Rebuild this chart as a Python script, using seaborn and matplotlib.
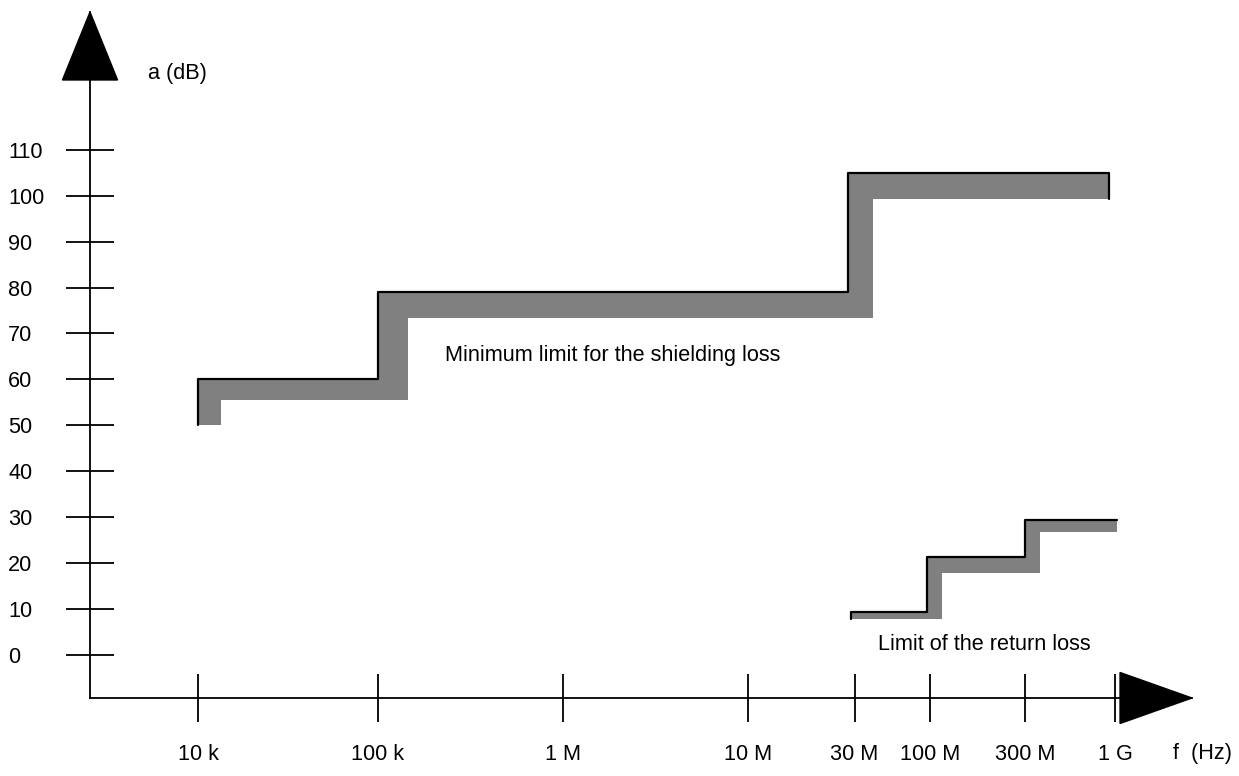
import numpy as np
import matplotlib
matplotlib.use('Agg')
import matplotlib.pyplot as plt
from matplotlib.patches import Polygon
import seaborn as sns

# frequency axis (Hz), tick labels and dB ticks
freq_ticks = [1e4, 1e5, 1e6, 1e7, 3e7, 1e8, 3e8, 1e9]
freq_labels = ['10 k', '100 k', '1 M', '10 M', '30 M', '100 M', '300 M', '1 G']
db_ticks = list(range(0, 111, 10))

# minimum limit for the shielding loss: top edge (black line) and lower edge of the grey band
shield_top_edges = [1e4, 1e5, 2.8e7, 0.92e9]
shield_top_db = [60, 79, 105]
shield_low_edges = [1e4, 1.35e4, 1.45e5, 4.0e7, 0.92e9]
shield_low_db = [50, 55.5, 73.3, 99.3]

# limit of the return loss
return_top_edges = [2.9e7, 9.5e7, 3.0e8, 1.02e9]
return_top_db = [9.4, 21.4, 29.3]
return_low_edges = [2.9e7, 1.15e8, 3.66e8, 1.02e9]
return_low_db = [7.7, 17.9, 26.7]

# the frequency axis is schematic: ticks are not spaced by a true log scale
tick_pos = [0, 0.98, 1.99, 3.0, 3.58, 3.99, 4.51, 5.0]
ref_log = np.r_[0, np.log10(freq_ticks), 13]
ref_pos = np.r_[-4, tick_pos, 9]


def fwd(f):
    f = np.clip(np.asarray(f, dtype=float), 1e-300, None)
    return np.interp(np.log10(f), ref_log, ref_pos)


def inv(p):
    return 10 ** np.interp(np.asarray(p, dtype=float), ref_pos, ref_log)


def level_at(edges, levels, grid):
    idx = np.searchsorted(edges, grid, side='right') - 1
    idx = np.clip(idx, 0, len(levels) - 1)
    return np.asarray(levels)[idx]


def step_line(edges, levels):
    xs, ys = [], []
    for i, lv in enumerate(levels):
        xs += [edges[i], edges[i + 1]]
        ys += [lv, lv]
    return xs, ys


def draw_limit(ax, top_edges, top_db, low_edges, low_db, drop_end):
    grid = np.array(sorted(set(top_edges) | set(low_edges)))
    top = level_at(top_edges, top_db, grid)
    low = level_at(low_edges, low_db, grid)
    ax.fill_between(grid, low, top, step='post', color='#808080', linewidth=0, zorder=2)
    xs, ys = step_line(top_edges, top_db)
    xs = [top_edges[0]] + xs
    ys = [low_db[0]] + ys
    if drop_end:
        xs.append(top_edges[-1])
        ys.append(low_db[-1])
    sns.lineplot(x=xs, y=ys, sort=False, estimator=None, color='black',
                 linewidth=1.6, ax=ax, zorder=3)


sns.set_theme(style='ticks', rc={'axes.edgecolor': 'black', 'xtick.color': 'black',
                                 'ytick.color': 'black', 'text.color': 'black'})
plt.rcParams['font.family'] = ['Liberation Sans', 'DejaVu Sans']
FS = 15.6

W, H = 1239, 776
fig = plt.figure(figsize=(W / 100, H / 100), dpi=100)
ax = fig.add_axes([90 / W, 1 - 698 / H, (1192 - 90) / W, (698 - 12) / H])
ax.set_xscale('function', functions=(fwd, inv))
ax.set_xlim(inv(-0.589), inv(5.42))
ax.set_ylim(-9.4, 140)

draw_limit(ax, shield_top_edges, shield_top_db, shield_low_edges, shield_low_db, True)
draw_limit(ax, return_top_edges, return_top_db, return_low_edges, return_low_db, False)

ax.text(2.3e5, 65.2, 'Minimum limit for the shielding loss', fontsize=FS,
        ha='left', va='center')
ax.text(4.4e7, 2.2, 'Limit of the return loss', fontsize=FS, ha='left', va='center')

sns.despine(ax=ax)
for s in ['left', 'bottom']:
    ax.spines[s].set_linewidth(1.3)

ax.set_xticks(freq_ticks)
ax.set_xticklabels(freq_labels)
ax.xaxis.set_minor_locator(matplotlib.ticker.NullLocator())
ax.set_yticks(db_ticks)
ax.set_yticklabels([str(v) for v in db_ticks])
ax.tick_params(axis='x', direction='inout', length=34, width=1.3, pad=16, labelsize=FS)
ax.tick_params(axis='y', direction='inout', length=34.5, width=1.3, pad=41.7, labelsize=FS)
plt.setp(ax.get_yticklabels(), ha='left')

# arrow heads on both axes
ax.add_patch(Polygon([[0, 1], [-0.0250, 0.9009], [0.0250, 0.9009]], closed=True,
                     transform=ax.transAxes, clip_on=False, color='black', zorder=5))
ax.add_patch(Polygon([[1, 0], [0.9347, -0.0372], [0.9347, 0.0372]], closed=True,
                     transform=ax.transAxes, clip_on=False, color='black', zorder=5))

fig.text(148 / W, 1 - 73 / H, 'a (dB)', fontsize=FS, ha='left', va='center')
fig.text(1173 / W, 1 - 753 / H, 'f  (Hz)', fontsize=FS, ha='left', va='center')

fig.savefig('out.png', dpi=100)
